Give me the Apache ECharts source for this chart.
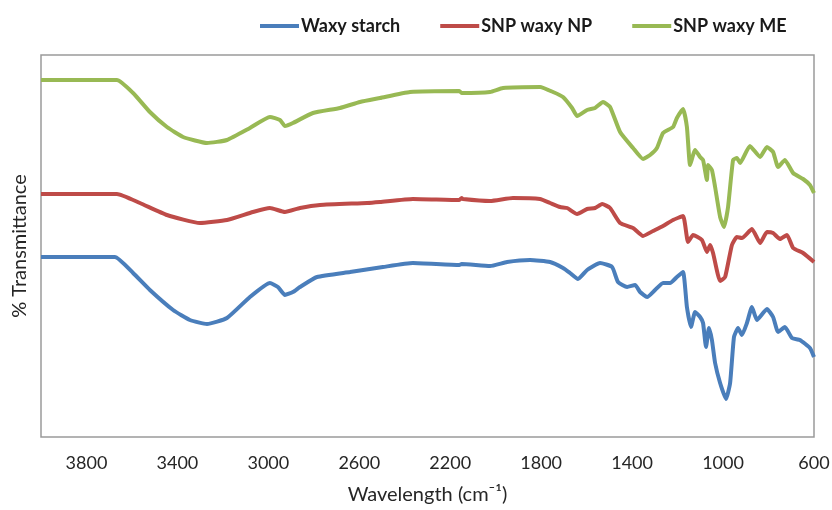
<!DOCTYPE html>
<html>
<head>
<meta charset="utf-8">
<script src="https://cdn.jsdelivr.net/npm/echarts@6/dist/echarts.min.js"></script>
<style>
  html, body { margin: 0; padding: 0; background: #fff; }
  #chart { width: 832px; height: 510px; }
</style>
</head>
<body>
<div id="chart"></div>
<script>
// FTIR spectra, values (arbitrary transmittance units)
const seriesNames = ['Waxy starch', 'SNP waxy NP', 'SNP waxy ME'];
const seriesColors = ['#4a7ebb', '#be4b48', '#98b954'];

const waxyWn = [4000, 3675, 3595, 3521, 3419, 3345, 3270, 3182, 3081, 2993, 2958, 2927, 2892, 2861, 2786, 2641, 2496, 2364, 2160, 2150, 2025, 1950, 1849, 1761, 1704, 1673, 1638, 1598, 1541, 1488, 1462, 1422, 1387, 1365, 1334, 1299, 1264, 1233, 1203, 1176, 1159, 1141, 1123, 1101, 1088, 1075, 1062, 1049, 1035, 1013, 987, 969, 952, 934, 917, 895, 873, 851, 807, 780, 758, 728, 697, 662, 618, 600];
const waxyT  = [180, 180, 164, 147, 127, 117, 113, 119, 140, 154, 150, 142, 145, 150, 160, 165, 170, 174, 172, 173, 171, 175, 177, 175, 169, 164, 158, 167, 174, 170, 155, 150, 152, 145, 140, 147, 154, 154, 160, 165, 130, 110, 125, 120, 114, 90, 109, 97, 74, 54, 38, 54, 100, 109, 102, 114, 130, 117, 128, 120, 105, 110, 99, 97, 89, 80];

const npWn = [4000, 3666, 3565, 3446, 3301, 3182, 3068, 2993, 2927, 2861, 2773, 2566, 2509, 2364, 2160, 2150, 2144, 2025, 1924, 1805, 1761, 1717, 1686, 1642, 1598, 1563, 1532, 1497, 1453, 1396, 1352, 1308, 1264, 1220, 1176, 1154, 1132, 1093, 1071, 1057, 1044, 1013, 991, 961, 939, 917, 873, 837, 807, 780, 750, 719, 692, 648, 600];
const npT  = [243, 243, 234, 222, 214, 217, 225, 229, 225, 229, 232, 234, 235, 238, 237, 239, 238, 236, 239, 238, 234, 230, 229, 223, 228, 229, 233, 229, 214, 209, 201, 206, 211, 217, 221, 195, 202, 197, 185, 192, 184, 156, 160, 192, 200, 199, 208, 194, 205, 204, 198, 202, 189, 184, 175];

const meWn = [4000, 3666, 3595, 3521, 3446, 3375, 3270, 3182, 3081, 2993, 2949, 2927, 2892, 2804, 2685, 2597, 2509, 2377, 2160, 2150, 2025, 1968, 1805, 1748, 1704, 1664, 1642, 1598, 1563, 1528, 1497, 1453, 1396, 1352, 1321, 1291, 1264, 1220, 1203, 1176, 1159, 1145, 1123, 1101, 1088, 1071, 1066, 1049, 1035, 1013, 996, 978, 956, 939, 925, 882, 837, 807, 780, 758, 728, 692, 648, 618, 600];
const meT  = [357, 357, 344, 325, 310, 300, 294, 297, 309, 320, 317, 311, 314, 324, 329, 335, 339, 345, 346, 344, 345, 349, 350, 345, 340, 329, 321, 327, 329, 335, 330, 305, 289, 278, 282, 289, 304, 310, 319, 328, 310, 272, 287, 280, 277, 257, 272, 267, 250, 220, 210, 230, 277, 279, 274, 291, 280, 290, 285, 270, 277, 264, 258, 252, 244];

const xTicks = { min: 600, max: 4000, step: 400 };

function zip(xs, ys) {
    return xs.map(function(x, i) { return [x, ys[i]]; });
}

const chart = echarts.init(document.getElementById('chart'));
const fontFam = 'Lato, "Open Sans", sans-serif';
const rawData = [zip(waxyWn, waxyT), zip(npWn, npT), zip(meWn, meT)];

chart.setOption({
    animation: false,
    backgroundColor: '#fff',
    legend: {
        left: 255,
        top: 12,
        icon: 'rect',
        itemWidth: 39,
        itemHeight: 4,
        itemGap: 40,
        textStyle: { fontFamily: fontFam, fontWeight: 'bold', fontSize: 18, color: '#1a1a1a', padding: [0, 0, 0, -3] },
        data: seriesNames
    },
    grid: {
        left: 41, right: 18, top: 55, bottom: 73,
        outerBoundsMode: 'none',
        containLabel: false,
        show: true, borderColor: '#9a9a9a', borderWidth: 1.5
    },
    xAxis: {
        type: 'value',
        inverse: true,
        min: xTicks.min,
        max: xTicks.max,
        interval: xTicks.step,
        axisLine: { show: false },
        axisTick: { show: false },
        splitLine: { show: false },
        axisLabel: {
            showMaxLabel: false,
            formatter: function(v) { return String(v); },
            fontFamily: fontFam, fontSize: 18, color: '#262626', margin: 17
        },
        name: 'Wavelength (cm\u207B\u00B9)',
        nameLocation: 'middle',
        nameGap: 48,
        nameTextStyle: { fontFamily: fontFam, fontSize: 20, color: '#262626' }
    },
    yAxis: {
        type: 'value',
        min: 0,
        max: 382,
        axisLine: { show: false },
        axisTick: { show: false },
        axisLabel: { show: false },
        splitLine: { show: false },
        name: '% Transmittance',
        nameLocation: 'middle',
        nameGap: 11,
        nameTextStyle: { fontFamily: fontFam, fontSize: 20, color: '#262626' }
    },
    series: seriesNames.map(function(name, i) {
        return {
            name: name,
            type: 'line',
            data: rawData[i],
            symbol: 'none',
            smooth: 0.15,
            color: seriesColors[i],
            lineStyle: { width: 4, color: seriesColors[i] }
        };
    })
});
</script>
</body>
</html>
